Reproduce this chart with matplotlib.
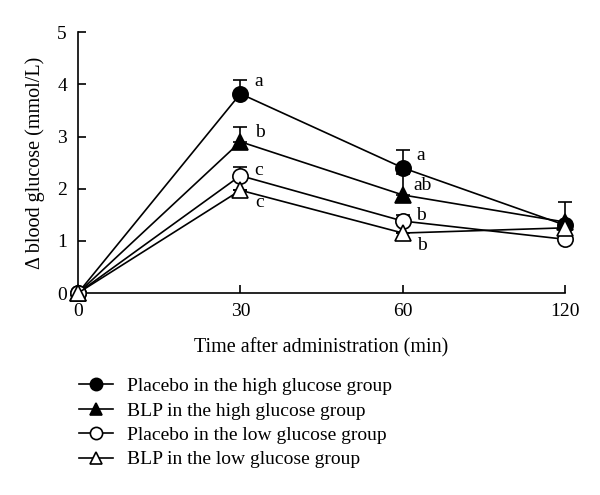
import matplotlib
matplotlib.use("Agg")
import matplotlib.pyplot as plt
import numpy as np

plt.rcParams['font.family'] = ['Liberation Serif', 'DejaVu Serif']

time_labels = ["0", "30", "60", "120"]
series_names = ["Placebo in the high glucose group",
                "BLP in the high glucose group",
                "Placebo in the low glucose group",
                "BLP in the low glucose group"]
placebo_high = [0.0, 3.82, 2.40, 1.30]
blp_high = [0.0, 2.90, 1.88, 1.36]
placebo_low = [0.0, 2.25, 1.38, 1.03]
blp_low = [0.0, 1.97, 1.15, 1.25]
placebo_high_err = [0.0, 0.26, 0.34, 0.0]
blp_high_err = [0.0, 0.28, 0.40, 0.38]
placebo_low_err = [0.0, 0.16, 0.12, 0.0]
blp_low_err = [0.0, 0.0, 0.0, 0.0]
placebo_high_sig = ["", "a", "a", ""]
blp_high_sig = ["", "b", "ab", ""]
placebo_low_sig = ["", "c", "b", ""]
blp_low_sig = ["", "c", "b", ""]

fig = plt.figure(figsize=(6, 4.95), dpi=100)
ax = fig.add_axes([0.13, 0.408, 0.812, 0.527])
x = np.arange(len(time_labels))

styles = [
    (placebo_high, placebo_high_err, placebo_high_sig, 'o', 'black', 11, (13, 9)),
    (blp_high, blp_high_err, blp_high_sig, '^', 'black', 11, (14, 7)),
    (placebo_low, placebo_low_err, placebo_low_sig, 'o', 'white', 11, (13, 4)),
    (blp_low, blp_low_err, blp_low_sig, '^', 'white', 11, (14, -9)),
]
handles = []
for i, (vals, err, sig, mk, fc, ms, off) in enumerate(styles):
    ax.errorbar(x, vals, yerr=[np.zeros(len(err)), err], fmt='none',
                ecolor='black', elinewidth=1.2, capsize=5, capthick=1.2,
                zorder=2, clip_on=False)
    h, = ax.plot(x, vals, '-', color='black', lw=1.2, marker=mk, ms=ms,
                 mfc=fc, mec='black', mew=1.2, zorder=3 + i * 0.1,
                 clip_on=False, label=series_names[i])
    handles.append(h)
    for xi, v, s in zip(x, vals, sig):
        if s:
            ax.annotate(s, (xi, v), xytext=off, textcoords='offset points',
                        ha='center', va='center', fontsize=14)

ax.set_xlim(0, 3)
ax.set_ylim(0, 5)
ax.set_xticks(x)
ax.set_xticklabels(time_labels)
ax.set_yticks([0, 1, 2, 3, 4, 5])
ax.tick_params(direction='in', length=6, width=1.2, labelsize=14)
ax.tick_params(axis='x', pad=7)
ax.tick_params(axis='y', pad=8)
for s in ['top', 'right']:
    ax.spines[s].set_visible(False)
for s in ['left', 'bottom']:
    ax.spines[s].set_linewidth(1.2)
ax.set_xlabel("Time after administration (min)", fontsize=14.5, labelpad=13)
ax.set_ylabel("Δ blood glucose (mmol/L)", fontsize=14.5, labelpad=9)

fig.legend(handles=handles, loc='upper left', bbox_to_anchor=(0.118, 0.253),
           frameon=False, fontsize=14, handlelength=1.75, handletextpad=0.75,
           labelspacing=0.35, borderaxespad=0, borderpad=0.4, markerscale=0.8)

fig.savefig("out.png", dpi=100)
